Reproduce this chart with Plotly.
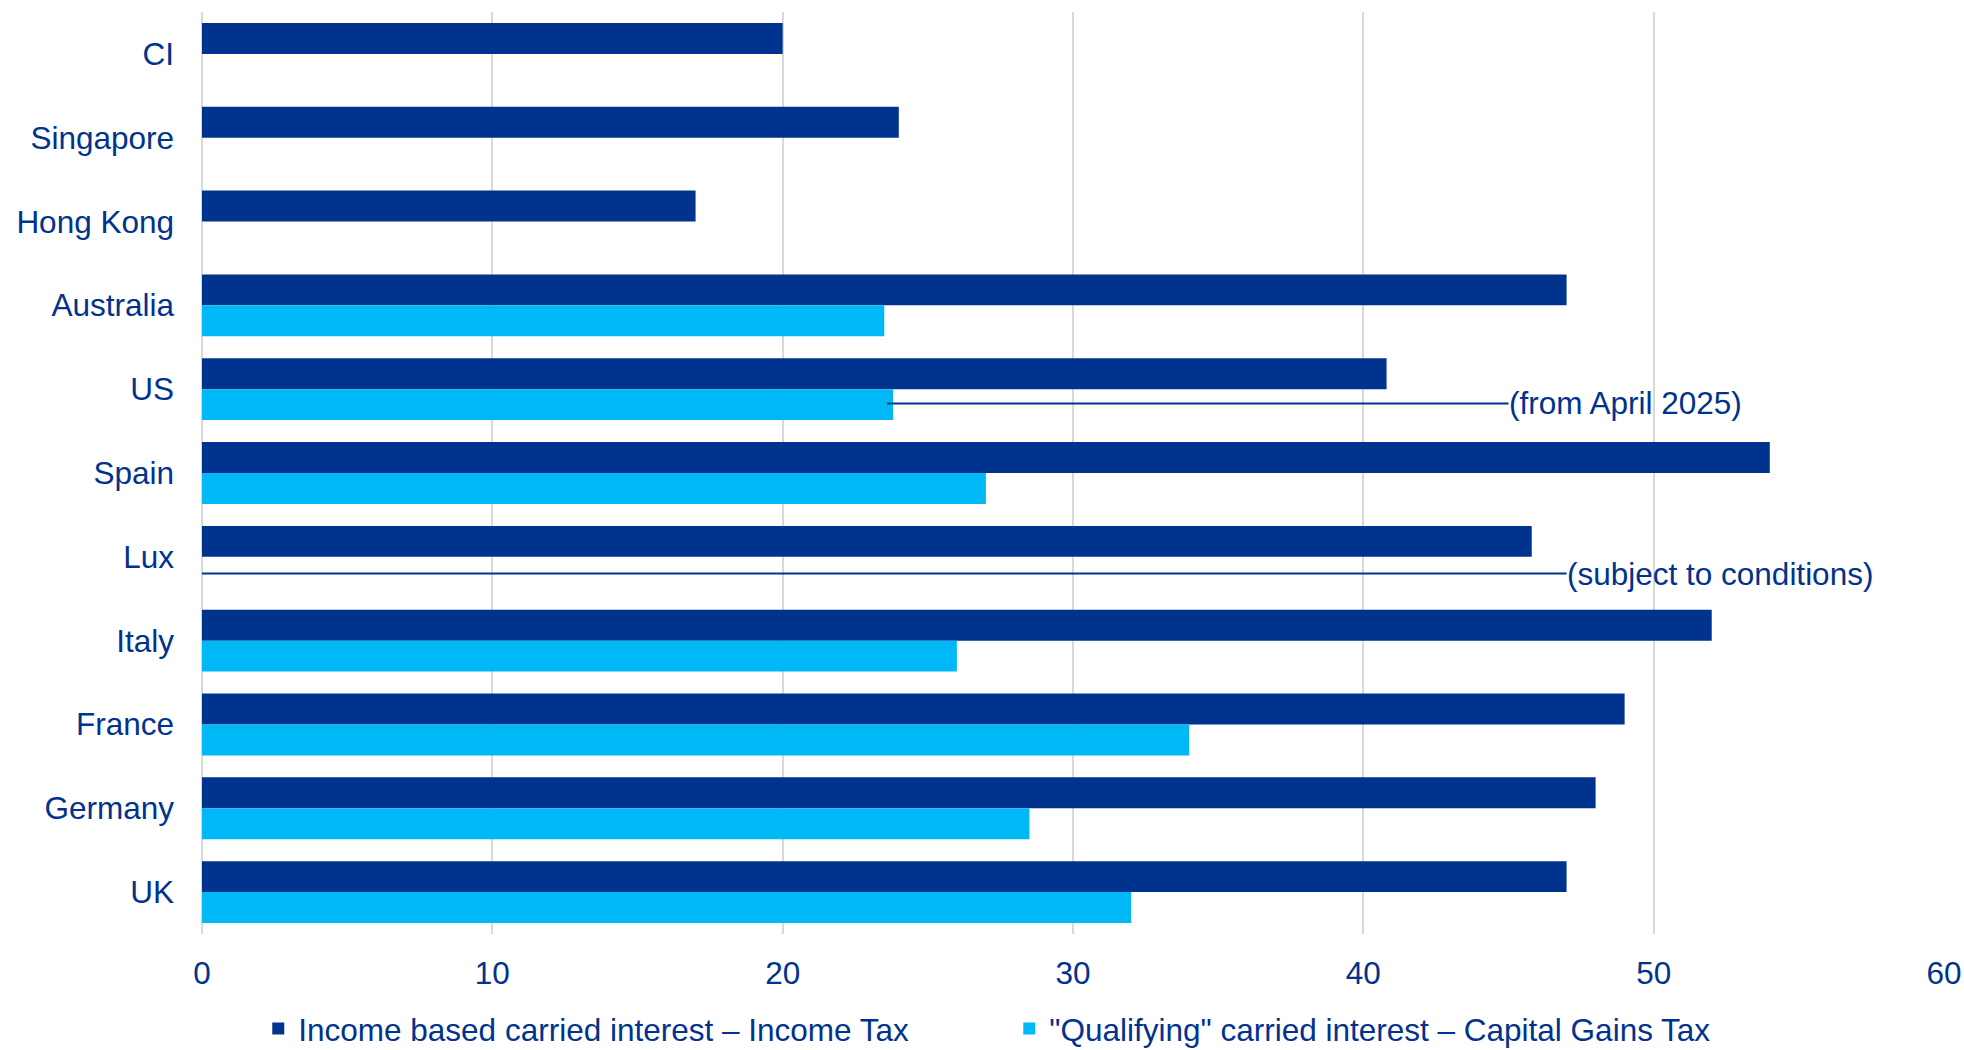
import plotly.graph_objects as go

categories = ["CI", "Singapore", "Hong Kong", "Australia", "US", "Spain",
              "Lux", "Italy", "France", "Germany", "UK"]
income_tax = [20, 24, 17, 47, 40.8, 54, 45.8, 52, 49, 48, 47]
cgt = [None, None, None, 23.5, 23.8, 27, None, 26, 34, 28.5, 32]

series_names = ["Income based carried interest \u2013 Income Tax",
                "\"Qualifying\" carried interest \u2013 Capital Gains Tax"]

note_texts = ["(from April 2025)", "(subject to conditions)"]
note_categories = ["US", "Lux"]
note_x_start = [23.6, 0]
note_x_end = [45.0, 47.0]
note_offsets = [0.17, 0.2]

x_ticks = [0, 10, 20, 30, 40, 50, 60]

DARK = "#00338D"
LIGHT = "#00B8F5"
TEXT = "#00338D"
FONT = "Arial, Liberation Sans, sans-serif"
FS = 31.5

fig = go.Figure()
fig.add_trace(go.Bar(y=categories, x=income_tax, orientation="h",
                     name=series_names[0], marker=dict(color=DARK, line=dict(width=0))))
fig.add_trace(go.Bar(y=categories, x=cgt, orientation="h",
                     name=series_names[1], marker=dict(color=LIGHT, line=dict(width=0))))

for txt, cat, xs, xe, off in zip(note_texts, note_categories, note_x_start, note_x_end, note_offsets):
    yi = categories.index(cat) + off
    fig.add_shape(type="line", xref="x", yref="y", x0=xs, x1=xe, y0=yi, y1=yi,
                  line=dict(color=DARK, width=2), layer="above")
    fig.add_annotation(x=xe, y=yi, xref="x", yref="y", text=txt, showarrow=False,
                       xanchor="left", yanchor="middle", xshift=-2,
                       font=dict(family=FONT, size=FS, color=TEXT))

fig.update_layout(
    width=1964, height=1050,
    margin=dict(l=201.5, r=20, t=12, b=116, autoexpand=False),
    paper_bgcolor="white", plot_bgcolor="white",
    barmode="group", bargap=0.262, bargroupgap=0,
    font=dict(family=FONT, size=FS, color=TEXT),
    showlegend=True,
    legend=dict(orientation="h", xref="container", yref="paper",
                x=0.1315, y=-0.1025, xanchor="left", yanchor="middle",
                entrywidth=706, entrywidthmode="pixels",
                font=dict(family=FONT, size=FS, color=TEXT),
                bgcolor="rgba(0,0,0,0)", traceorder="normal"),
)
fig.update_xaxes(range=[0, 60], tickvals=x_ticks, showgrid=True, gridcolor="#D9D9D9",
                 gridwidth=1.5, zeroline=True, zerolinecolor="#D9D9D9", zerolinewidth=1.5,
                 showline=False, ticks="", ticklabelstandoff=17, automargin=False,
                 tickfont=dict(family=FONT, size=FS, color=TEXT), fixedrange=True)
fig.update_yaxes(autorange="reversed", showgrid=False, showline=False, ticks="",
                 ticklabelstandoff=27, automargin=False,
                 tickfont=dict(family=FONT, size=FS, color=TEXT),
                 categoryorder="array", categoryarray=categories)

fig.write_html("out.html")
